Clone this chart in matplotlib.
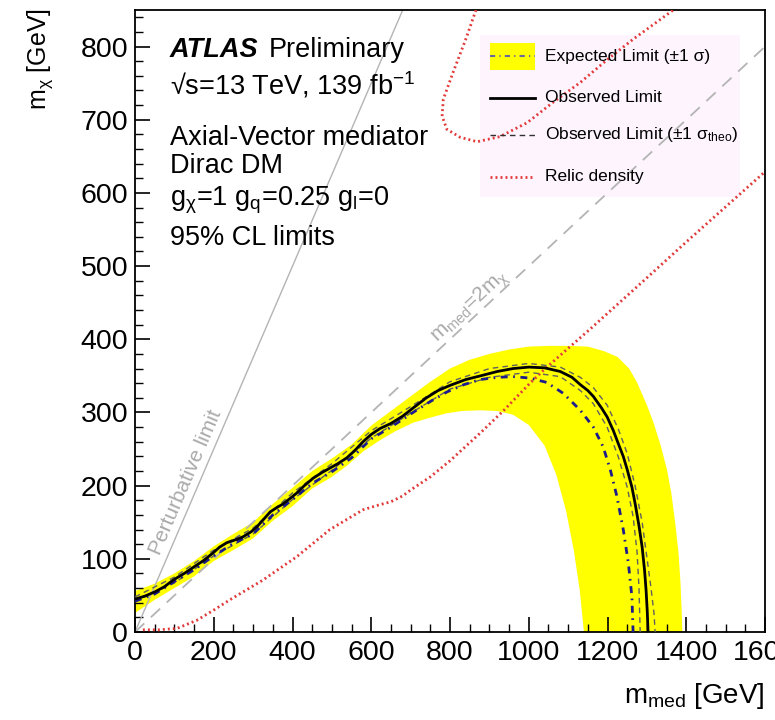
import numpy as np
import matplotlib
matplotlib.use("Agg")
import matplotlib.pyplot as plt
from matplotlib.patches import Rectangle

plt.rcParams["font.family"] = ["Liberation Sans", "DejaVu Sans"]
plt.rcParams["mathtext.fontset"] = "custom"
plt.rcParams["mathtext.rm"] = "Liberation Sans"
plt.rcParams["mathtext.it"] = "Liberation Sans:italic"
plt.rcParams["mathtext.bf"] = "Liberation Sans:bold"

# observed limit (m_med, m_chi) in GeV
obs_mmed = [0, 25, 51, 75, 97, 125, 147, 175, 198, 215, 233, 255, 274, 295, 310, 330, 343, 360, 376, 395,
            411, 430, 452, 475, 495, 515, 538, 560, 579, 600, 622, 650, 680, 706, 740, 770, 800, 840, 877, 920,
            960, 1000, 1040, 1080, 1110, 1131, 1150, 1164, 1185, 1199, 1215, 1227, 1240, 1250, 1262, 1270,
            1280, 1288, 1294, 1298, 1301, 1303]
obs_mchi = [45, 49, 55, 62, 71, 80, 88, 98, 108, 116, 122, 126, 130, 137, 144, 156, 164, 170, 175, 183,
            190, 200, 210, 218, 224, 230, 238, 249, 260, 270, 278, 285, 295, 306, 320, 330, 337, 345, 350, 356,
            360, 362, 361, 356, 348, 338, 330, 322, 306, 294, 275, 258, 240, 222, 198, 176,
            145, 116, 85, 57, 28, 0]

# expected limit
exp_mmed = [0, 50, 100, 150, 200, 250, 300, 350, 400, 450, 500, 550, 600, 650, 706, 750, 792, 835, 877, 920,
            960, 1003, 1046, 1088, 1131, 1164, 1189, 1207, 1224, 1240, 1253, 1262, 1265]
exp_mchi = [42, 52, 69, 85, 104, 121, 134, 160, 181, 203, 219, 238, 264, 280, 300, 315, 328, 338, 345, 348,
            349, 347, 341, 326, 303, 280, 253, 222, 185, 140, 94, 48, 0]

# observed +-1 sigma theory
thu_mmed = [0, 100, 200, 300, 400, 500, 600, 700, 800, 900, 1000, 1080, 1131, 1164, 1199, 1227, 1250, 1270,
            1288, 1300, 1310, 1318, 1321]
thu_mchi = [48, 75, 112, 142, 190, 230, 275, 308, 342, 360, 367, 362, 348, 334, 310, 278, 244, 200,
            150, 102, 62, 26, 0]
thd_mmed = [0, 100, 200, 300, 400, 500, 600, 700, 800, 900, 1000, 1080, 1131, 1164, 1199, 1227, 1250, 1265,
            1275, 1280, 1283]
thd_mchi = [42, 67, 104, 134, 181, 221, 265, 299, 332, 348, 355, 349, 330, 312, 280, 240, 198, 158,
            110, 60, 0]

# expected +-1 sigma band: outer edge, then inner edge (from the bottom back to the origin)
band_hi_mmed = [0, 50, 100, 150, 200, 250, 300, 350, 400, 450, 500, 550, 600, 650, 700, 750, 800, 850, 900,
                950, 1000, 1050, 1100, 1150, 1190, 1225, 1255, 1275, 1300, 1317, 1335, 1351, 1362, 1372,
                1380, 1385, 1388, 1390]
band_hi_mchi = [56, 66, 80, 97, 117, 134, 150, 175, 197, 220, 237, 256, 282, 302, 322, 342, 360, 372, 380,
                386, 390, 391, 391, 390, 384, 376, 360, 341, 310, 286, 255, 222, 190, 149,
                110, 71, 35, 0]
band_lo_mmed = [1140, 1130, 1115, 1095, 1070, 1040, 1000, 960, 920, 877, 830, 792, 750, 706, 660, 622, 580,
                540, 500, 450, 400, 350, 300, 250, 200, 150, 100, 50, 0]
band_lo_mchi = [0, 55, 110, 165, 215, 255, 283, 297, 302, 303, 302, 299, 293, 286, 274, 262, 247,
                228, 212, 196, 172, 152, 128, 112, 97, 76, 60, 44, 26]

# relic density contours
rel1_mmed = [20, 60, 107, 157, 200, 241, 325, 411, 495, 579, 622, 650, 680, 700, 750, 800, 877, 935, 1003,
             1046, 1105, 1156, 1300, 1400, 1500, 1600]
rel1_mchi = [3, 3, 5, 16, 30, 44, 71, 103, 140, 167, 174, 178, 186, 194, 212, 234, 272, 302, 340,
             362, 390, 414, 484, 533, 581, 629]
rel2_mmed = [866, 840, 808, 783, 780, 792, 826, 869, 927, 996, 1062, 1131, 1199, 1265, 1334, 1367]
rel2_mchi = [850, 810, 765, 728, 705, 687, 676, 670, 677, 696, 724, 751, 782, 810, 837, 850]

# reference lines
pert_mmed = [0, 680]
pert_mchi = [0, 850]
diag_mmed = [0, 1600]
diag_mchi = [0, 800]

W, H = 775, 720
fig = plt.figure(figsize=(W / 100, H / 100), dpi=100)
ax = fig.add_axes([135 / W, 88 / H, 630 / W, 622 / H])
ax.set_xlim(0, 1600)
ax.set_ylim(0, 850)

blue = "#1c1c8c"
red = "#e23a3a"

ax.fill(band_hi_mmed + band_lo_mmed, band_hi_mchi + band_lo_mchi, color="#ffff00", lw=0, zorder=1)
ax.plot(pert_mmed, pert_mchi, color="#b4b4b4", lw=1.0, zorder=2)
ax.plot(diag_mmed, diag_mchi, color="#b4b4b4", lw=1.3, dashes=(7, 5), zorder=2)
ax.plot(rel1_mmed, rel1_mchi, color=red, lw=2.0, linestyle=(0, (0.7, 1.1)), zorder=3)
ax.plot(rel2_mmed, rel2_mchi, color=red, lw=2.0, linestyle=(0, (0.7, 1.1)), zorder=3)
ax.plot(thu_mmed, thu_mchi, color="#606060", lw=1.0, dashes=(4, 3), zorder=3)
ax.plot(thd_mmed, thd_mchi, color="#606060", lw=1.0, dashes=(4, 3), zorder=3)
ax.plot(exp_mmed, exp_mchi, color=blue, lw=2.0, dashes=(2.5, 2, 0.6, 2), zorder=4)
ax.plot(obs_mmed, obs_mchi, color="black", lw=2.0, zorder=5)

ax.xaxis.set_major_locator(plt.MultipleLocator(200))
ax.xaxis.set_minor_locator(plt.MultipleLocator(50))
ax.yaxis.set_major_locator(plt.MultipleLocator(100))
ax.yaxis.set_minor_locator(plt.MultipleLocator(20))
ax.tick_params(which="both", direction="in", top=False, right=False, labelsize=20.5)
ax.tick_params(which="major", length=11, width=1.2)
ax.tick_params(which="minor", length=5.5, width=1.0)
ax.tick_params(axis="x", pad=6)
ax.tick_params(axis="y", pad=5)
for s in ax.spines.values():
    s.set_linewidth(1.3)


def ftext(px, py, s, **kw):
    return fig.text(px / W, 1 - py / H, s, **kw)


def angle(xs, ys):
    p = ax.transData.transform(np.column_stack([xs, ys]))
    return np.degrees(np.arctan2(p[1, 1] - p[0, 1], p[1, 0] - p[0, 0]))


# axis titles
ftext(40, 8, r"m$_{\mathrm{χ}}$ [GeV]", rotation=90, ha="center", va="top", fontsize=18)
ftext(765, 703, r"m$_{\mathrm{med}}$ [GeV]", ha="right", va="baseline", fontsize=20)

# ATLAS label block
fs = 19.5
t = ftext(170, 57, "ATLAS", fontsize=fs, fontweight="bold", fontstyle="italic", va="baseline")
r = fig.canvas.get_renderer()
bb = t.get_window_extent(r)
fig.text(bb.x1 / W + 10 / W, 1 - 57 / H, "Preliminary", fontsize=fs, va="baseline")
ftext(170, 95, r"√s=13 TeV, 139 fb$^{-1}$", fontsize=fs, va="baseline")
ftext(170, 145, "Axial-Vector mediator", fontsize=fs, va="baseline")
ftext(170, 173, "Dirac DM", fontsize=fs, va="baseline")
ftext(170, 205, r"g$_{\mathrm{χ}}$=1 g$_{\mathrm{q}}$=0.25 g$_{\mathrm{l}}$=0", fontsize=fs, va="baseline")
ftext(170, 245, "95% CL limits", fontsize=fs, va="baseline")

# annotations along the reference lines
ax.text(128, 205, "Perturbative limit", color="#aaaaaa", fontsize=15, ha="center", va="center",
        rotation=angle(pert_mmed, pert_mchi), rotation_mode="anchor")
ax.text(851, 445, r"m$_{\mathrm{med}}$=2m$_{\mathrm{χ}}$", color="#aaaaaa", fontsize=15, ha="center",
        va="center", rotation=angle(diag_mmed, diag_mchi), rotation_mode="anchor")

# legend
tf = fig.transFigure
ax.add_patch(Rectangle((480 / W, 1 - 197 / H), 260 / W, 162 / H, transform=tf, facecolor="#fdf4fd",
                       edgecolor="none", zorder=0.5, clip_on=False))
ax.add_patch(Rectangle((490 / W, 1 - 70 / H), 45 / W, 27 / H, transform=tf, facecolor="#ffff00",
                       edgecolor="none", zorder=6, clip_on=False))
lx = [490 / W, 535 / W]
ax.plot(lx, [1 - 56 / H] * 2, transform=tf, color="#6a6a9a", lw=1.5, dashes=(2.5, 2, 0.6, 2),
        zorder=7, clip_on=False)
ax.plot(lx, [1 - 98 / H] * 2, transform=tf, color="black", lw=2.0, zorder=7, clip_on=False)
ax.plot(lx, [1 - 135 / H] * 2, transform=tf, color="#303030", lw=1.0, dashes=(4, 3), zorder=7, clip_on=False)
ax.plot(lx, [1 - 177 / H] * 2, transform=tf, color=red, lw=2.0, linestyle=(0, (0.7, 1.1)),
        zorder=7, clip_on=False)
ftext(545, 56, "Expected Limit (±1 σ)", fontsize=12.5, va="center")
ftext(545, 98, "Observed Limit", fontsize=12.5, va="center")
ftext(545, 134, r"Observed Limit (±1 σ$_{\mathrm{theo}}$)", fontsize=12.5, va="center")
ftext(545, 177, "Relic density", fontsize=12.5, va="center")

fig.savefig("out.png", dpi=100)
